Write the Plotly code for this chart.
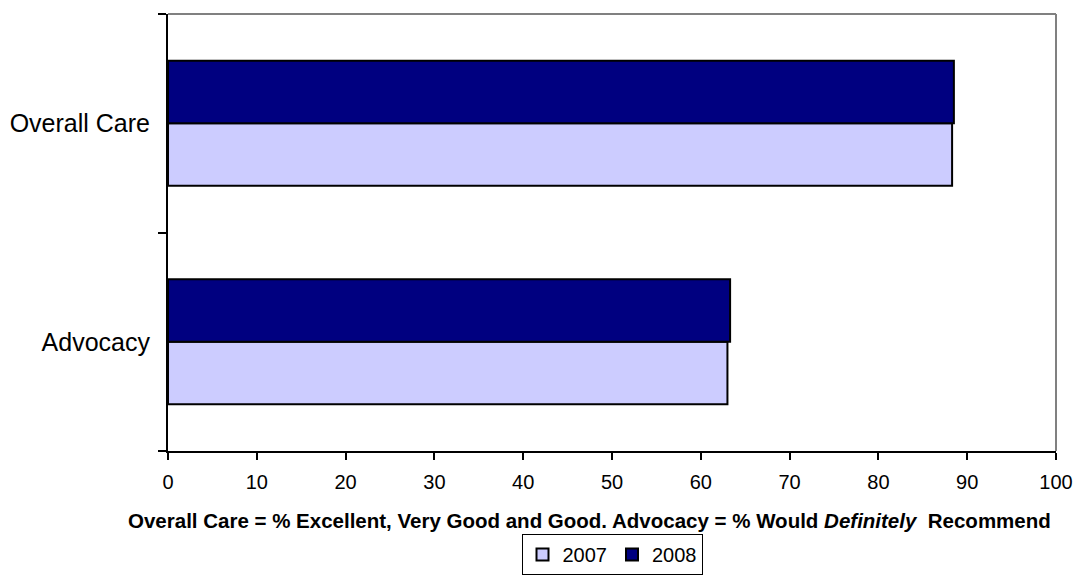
import plotly.graph_objects as go

categories = ["Advocacy", "Overall Care"]
values_2007 = [63.0, 88.3]
values_2008 = [63.3, 88.5]
x_ticks = [0, 10, 20, 30, 40, 50, 60, 70, 80, 90, 100]

fig = go.Figure()
fig.add_trace(go.Bar(
    name="2007", y=categories, x=values_2007, orientation="h",
    marker=dict(color="#CCCCFF", line=dict(color="black", width=2)),
))
fig.add_trace(go.Bar(
    name="2008", y=categories, x=values_2008, orientation="h",
    marker=dict(color="#000080", line=dict(color="black", width=2)),
))

font = "Liberation Sans, Arial, sans-serif"

fig.update_layout(
    width=1073, height=577,
    margin=dict(l=168, r=17, t=14, b=126, autoexpand=False),
    paper_bgcolor="white", plot_bgcolor="white",
    barmode="group", bargap=0.428, bargroupgap=0,
    font=dict(family=font, color="black", size=20),
    showlegend=True,
    legend=dict(
        orientation="h", xref="container", x=612 / 1073, xanchor="center",
        yref="container", y=2 / 577, yanchor="bottom",
        bordercolor="black", borderwidth=1, font=dict(size=20),
        traceorder="normal", itemwidth=30, tracegroupgap=0,
    ),
    xaxis=dict(
        range=[0, 100], tickvals=x_ticks, showgrid=False, zeroline=False,
        showline=True, linecolor="black", linewidth=2,
        ticks="outside", ticklen=7, tickwidth=2, tickcolor="black",
        tickfont=dict(size=20), automargin=False, ticklabelstandoff=5,
    ),
    yaxis=dict(
        categoryorder="array", categoryarray=categories,
        showgrid=False, zeroline=False,
        showline=True, linecolor="black", linewidth=2,
        ticks="outside", ticklen=8, tickwidth=2, tickcolor="black",
        tickson="boundaries", tickfont=dict(size=25), automargin=False,
        ticklabelstandoff=11,
    ),
    shapes=[
        dict(type="line", xref="x domain", yref="y domain", x0=0, x1=1, y0=1, y1=1,
             line=dict(color="#808080", width=2)),
        dict(type="line", xref="x domain", yref="y domain", x0=1, x1=1, y0=0, y1=1,
             line=dict(color="#808080", width=2)),
    ],
    annotations=[
        dict(text="<b>Overall Care = % Excellent, Very Good and Good. Advocacy = % Would <i>Definitely</i>  Recommend</b>",
             xref="paper", yref="paper", x=0.475, y=-0.158, xanchor="center", yanchor="middle",
             showarrow=False, font=dict(size=20.5)),
    ],
)

fig.write_html("out.html")
